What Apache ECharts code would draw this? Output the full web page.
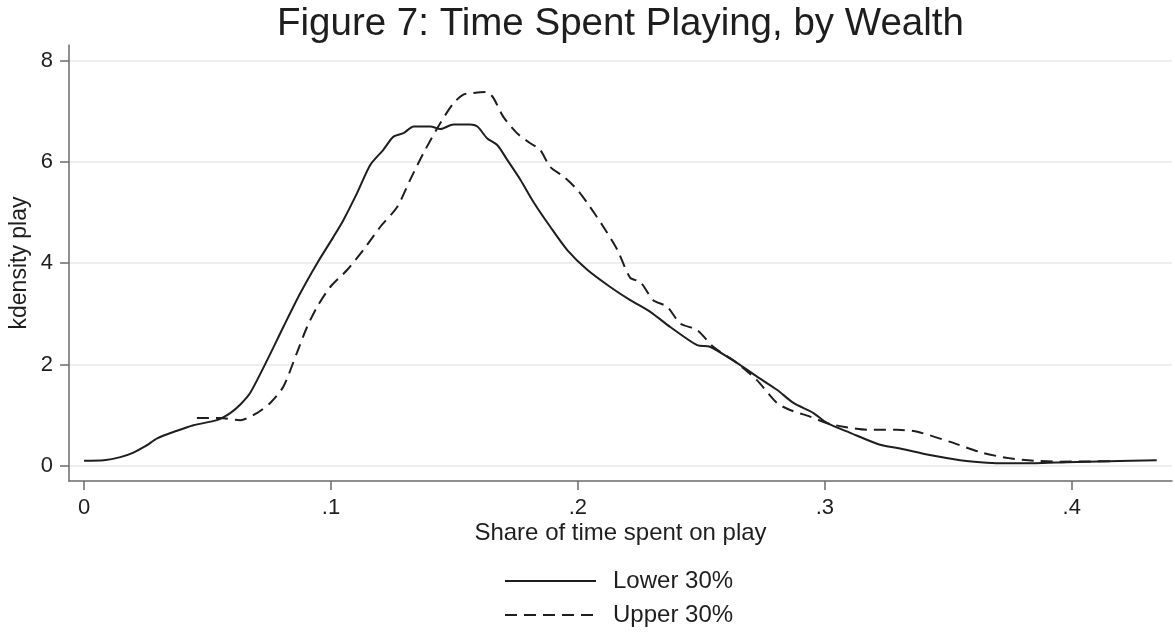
<!DOCTYPE html>
<html>
<head>
<meta charset="utf-8">
<script src="https://cdn.jsdelivr.net/npm/echarts@6/dist/echarts.min.js"></script>
<style>html,body{margin:0;padding:0;background:#fff;}#c{width:1175px;height:634px;}</style>
</head>
<body>
<div id="c"></div>
<script>
const titleText = 'Figure 7: Time Spent Playing, by Wealth';
const xName = 'Share of time spent on play';
const yName = 'kdensity play';
const seriesNames = ['Lower 30%', 'Upper 30%'];
const xTicks = [0, 0.1, 0.2, 0.3, 0.4];
const xTickLabels = ['0', '.1', '.2', '.3', '.4'];
const yTicks = [0, 2, 4, 6, 8];

const lowerX = [0.000,0.008,0.0147,0.020,0.025,0.0296,0.037,0.0443,0.0538,0.0592,0.0635,0.0673,0.0742,0.0807,0.0876,0.0944,0.101,0.105,0.1106,0.1159,0.1212,0.1253,0.1294,0.1335,0.1402,0.1443,0.1496,0.1564,0.1593,0.1632,0.1674,0.1714,0.1767,0.182,0.1888,0.1957,0.2038,0.2131,0.2212,0.2293,0.2374,0.2483,0.2535,0.2644,0.2725,0.2806,0.2873,0.2954,0.301,0.3103,0.322,0.3305,0.3425,0.3548,0.363,0.371,0.385,0.398,0.415,0.4344];
const lowerY = [0.10,0.11,0.17,0.26,0.39,0.54,0.68,0.80,0.90,1.04,1.22,1.44,2.09,2.74,3.41,4.00,4.52,4.85,5.39,5.94,6.24,6.50,6.57,6.70,6.70,6.65,6.74,6.74,6.70,6.47,6.33,6.04,5.65,5.21,4.72,4.26,3.87,3.53,3.27,3.04,2.74,2.38,2.35,2.03,1.76,1.50,1.24,1.04,0.84,0.65,0.42,0.34,0.21,0.11,0.07,0.05,0.05,0.07,0.09,0.11];

const upperX = [0.0457,0.055,0.0633,0.070,0.0754,0.0807,0.0862,0.0903,0.0944,0.0997,0.1066,0.1131,0.12,0.1268,0.1321,0.1374,0.1443,0.1496,0.1536,0.1577,0.1632,0.1657,0.1698,0.1753,0.1807,0.1847,0.1888,0.1942,0.1998,0.2038,0.2103,0.216,0.2212,0.2253,0.2305,0.2362,0.2414,0.2483,0.2548,0.2644,0.2725,0.2806,0.2859,0.294,0.301,0.3075,0.3172,0.3293,0.3375,0.3508,0.3642,0.3745,0.3845,0.395,0.4168];
const upperY = [0.94,0.94,0.90,1.04,1.24,1.56,2.23,2.74,3.14,3.53,3.87,4.26,4.72,5.11,5.65,6.17,6.77,7.16,7.33,7.36,7.38,7.27,6.89,6.57,6.37,6.24,5.90,5.71,5.45,5.19,4.72,4.26,3.71,3.63,3.27,3.14,2.81,2.68,2.35,2.03,1.69,1.24,1.10,0.97,0.84,0.77,0.71,0.71,0.67,0.47,0.25,0.15,0.10,0.08,0.09];

const pair = (xs, ys) => xs.map((x, i) => [x, ys[i]]);
const FONT = "'Liberation Sans', Arial, sans-serif";
const INK = '#1e1e1e';
const AXIS = '#6b6b6b';

const chart = echarts.init(document.getElementById('c'), null, {renderer: 'canvas'});
chart.setOption({
  backgroundColor: '#ffffff',
  animation: false,
  title: {
    text: titleText,
    left: 277,
    top: 5,
    padding: 0,
    textStyle: {fontFamily: FONT, fontSize: 38.5, fontWeight: 'normal', color: INK}
  },
  legend: {
    orient: 'vertical',
    left: 504,
    top: 569,
    itemWidth: 91,
    itemHeight: 14,
    itemGap: 10,
    padding: 0,
    data: seriesNames,
    itemStyle: {opacity: 0},
    textStyle: {fontFamily: FONT, fontSize: 24, color: INK, padding: [0, 0, 0, 12]}
  },
  grid: {left: 69, right: 3, top: 45, bottom: 153, containLabel: false},
  xAxis: {
    type: 'value',
    min: -0.0061,
    max: 0.4406,
    name: xName,
    nameLocation: 'middle',
    nameGap: 40,
    nameMoveOverlap: false,
    nameTextStyle: {fontFamily: FONT, fontSize: 24, color: INK},
    axisLine: {show: true, onZero: false, lineStyle: {color: AXIS, width: 1.5}},
    axisTick: {show: true, length: 9, customValues: xTicks, lineStyle: {color: AXIS, width: 1.5}},
    axisLabel: {
      customValues: xTicks,
      margin: 16,
      fontFamily: FONT, fontSize: 22, color: INK,
      formatter: v => { const i = xTicks.findIndex(t => Math.abs(t - v) < 1e-9); return i >= 0 ? xTickLabels[i] : ''; }
    },
    splitLine: {show: false}
  },
  yAxis: {
    type: 'value',
    min: -0.302,
    max: 8.31,
    name: yName,
    nameLocation: 'middle',
    nameGap: 38,
    nameMoveOverlap: false,
    nameTextStyle: {fontFamily: FONT, fontSize: 23, color: INK},
    axisLine: {show: true, onZero: false, lineStyle: {color: AXIS, width: 1.5}},
    axisTick: {show: true, length: 9, customValues: yTicks, lineStyle: {color: AXIS, width: 1.5}},
    axisLabel: {customValues: yTicks, margin: 16, fontFamily: FONT, fontSize: 22, color: INK},
    splitLine: {show: true, lineStyle: {color: '#e8e8e8', width: 1.5}}
  },
  series: [
    {
      name: seriesNames[0],
      type: 'line',
      data: pair(lowerX, lowerY),
      symbol: 'none',
      smooth: 0.25,
      lineStyle: {color: INK, width: 2, type: 'solid'},
      itemStyle: {color: INK}
    },
    {
      name: seriesNames[1],
      type: 'line',
      data: pair(upperX, upperY),
      symbol: 'none',
      smooth: 0.25,
      lineStyle: {color: INK, width: 2, type: [12, 7]},
      itemStyle: {color: INK}
    }
  ]
});
</script>
</body>
</html>
